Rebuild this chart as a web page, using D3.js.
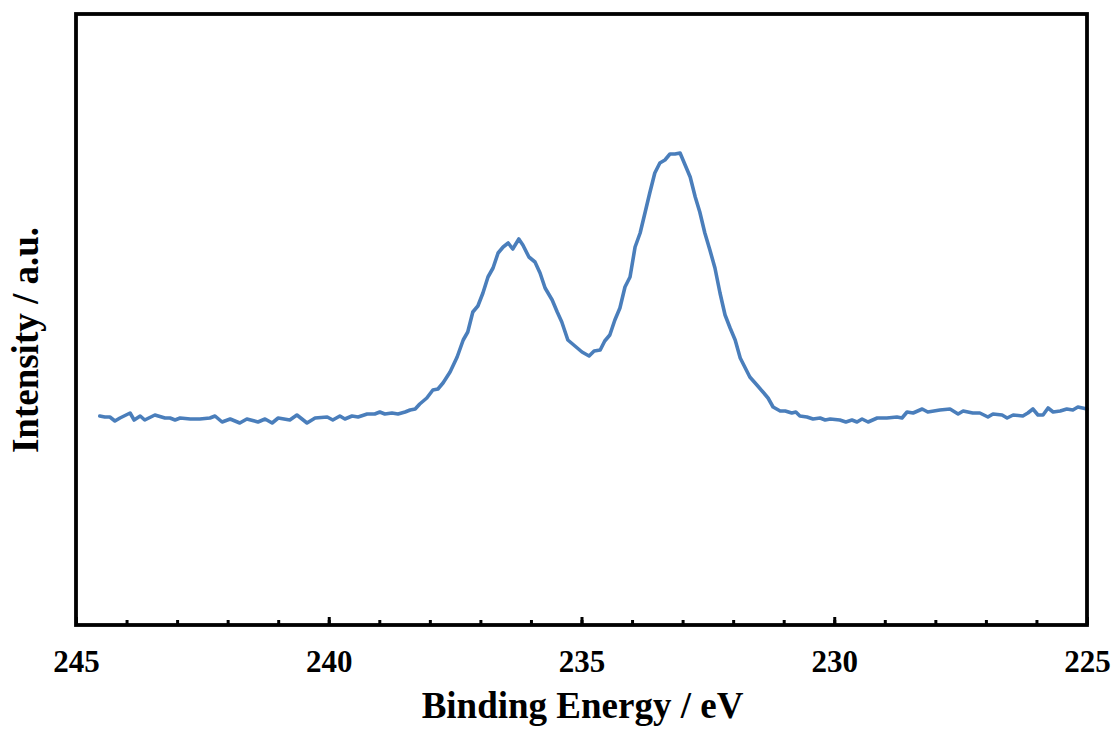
<!DOCTYPE html>
<html>
<head>
<meta charset="utf-8">
<script src="https://cdn.jsdelivr.net/npm/d3@7"></script>
<style>
  html, body { margin: 0; padding: 0; background: #fff; }
  svg { display: block; }
</style>
</head>
<body>
<svg id="chart" width="1116" height="729"></svg>
<script>
// Binding energy (eV)
const energy = [
  244.53,244.43,244.33,244.23,244.13,243.93,243.85,243.73,243.64,243.44,
  243.24,243.14,243.04,242.94,242.74,242.55,242.35,242.25,242.11,241.95,
  241.76,241.62,241.40,241.26,241.12,241.00,240.77,240.63,240.43,240.27,
  240.03,239.92,239.78,239.68,239.54,239.42,239.24,239.09,238.99,238.89,
  238.75,238.63,238.49,238.39,238.29,238.20,238.06,237.94,237.84,237.74,
  237.60,237.46,237.34,237.25,237.15,237.05,236.95,236.85,236.75,236.65,
  236.55,236.45,236.36,236.24,236.16,236.04,235.92,235.82,235.72,235.58,
  235.48,235.39,235.27,235.13,234.99,234.85,234.75,234.63,234.54,234.44,
  234.34,234.24,234.14,234.04,233.94,233.84,233.74,233.65,233.55,233.45,
  233.35,233.25,233.15,233.05,232.95,232.85,232.75,232.66,232.56,232.46,
  232.36,232.26,232.16,232.06,231.96,231.86,231.77,231.67,231.53,231.41,
  231.31,231.21,231.07,230.97,230.84,230.76,230.68,230.54,230.42,230.28,
  230.18,230.08,229.89,229.77,229.65,229.55,229.45,229.33,229.15,228.96,
  228.76,228.66,228.56,228.44,228.26,228.15,227.91,227.71,227.55,227.45,
  227.26,227.12,226.96,226.86,226.68,226.58,226.46,226.27,226.17,226.07,
  225.97,225.87,225.77,225.67,225.53,225.40,225.28,225.18,225.00
];
// Intensity (a.u.)
const intensity = [
  209,208,208,204,207,212,205,209,205,210,
  207,207,205,207,206,206,207,209,203,206,
  202,206,203,206,202,207,205,210,202,207,
  208,205,209,206,209,208,211,211,213,211,
  212,211,213,215,216,221,227,235,236,242,
  253,268,285,293,313,319,332,348,357,372,
  378,382,376,386,380,368,363,352,337,325,
  313,303,285,279,273,269,274,275,284,290,
  305,317,338,348,378,392,413,432,452,462,
  465,471,471,472,460,448,428,413,392,375,
  357,332,310,297,285,267,258,248,240,233,
  227,218,214,214,212,213,209,208,206,207,
  205,206,205,203,205,203,206,203,207,207,
  208,207,213,212,216,213,215,216,211,214,
  212,212,208,211,210,207,210,209,212,216,
  210,210,217,213,214,216,215,218,216
];
const majorTicks = [245, 240, 235, 230, 225];
const minorTicks = d3.range(225, 246, 1);
const xTitle = "Binding Energy / eV";
const yTitle = "Intensity / a.u.";

const data = energy.map((e, i) => ({ e, v: intensity[i] }));

const svg = d3.select("#chart");
const L = 76, R = 1087, T = 14, B = 625;
const x = d3.scaleLinear().domain([245, 225]).range([L, R]);
const y = d3.scaleLinear().domain([0, 611]).range([B, T]);

const font = "'Liberation Serif', 'Times New Roman', serif";

// minor ticks
const minorAxis = d3.axisBottom(x).tickValues(minorTicks).tickSize(-5).tickFormat("");
const gMin = svg.append("g").attr("transform", `translate(0,${B})`).call(minorAxis);
gMin.select(".domain").remove();
gMin.selectAll("line").attr("stroke", "#000").attr("stroke-width", 3);

// major ticks with labels
const majorAxis = d3.axisBottom(x).tickValues(majorTicks).tickSize(-8).tickPadding(25)
  .tickFormat(d3.format("d"));
const gMaj = svg.append("g").attr("transform", `translate(0,${B})`).call(majorAxis);
gMaj.select(".domain").remove();
gMaj.selectAll("line").attr("stroke", "#000").attr("stroke-width", 3);
gMaj.selectAll("text")
  .attr("fill", "#000")
  .style("font-family", font)
  .style("font-weight", "bold")
  .style("font-size", "31px");

// line
const line = d3.line().x(d => x(d.e)).y(d => y(d.v));
svg.append("path")
  .datum(data)
  .attr("fill", "none")
  .attr("stroke", "#4a7ebb")
  .attr("stroke-width", 3.6)
  .attr("stroke-linejoin", "round")
  .attr("stroke-linecap", "round")
  .attr("d", line);

// frame
svg.append("rect")
  .attr("x", L).attr("y", T)
  .attr("width", R - L).attr("height", B - T)
  .attr("fill", "none")
  .attr("stroke", "#000")
  .attr("stroke-width", 3.8);

// titles
svg.append("text")
  .attr("x", (L + R) / 2 + 1).attr("y", 718)
  .attr("text-anchor", "middle")
  .style("font-family", font).style("font-weight", "bold").style("font-size", "37px")
  .text(xTitle);

svg.append("text")
  .attr("transform", `translate(38,340) rotate(-90)`)
  .attr("text-anchor", "middle")
  .style("font-family", font).style("font-weight", "bold").style("font-size", "37px")
  .text(yTitle);
</script>
</body>
</html>
